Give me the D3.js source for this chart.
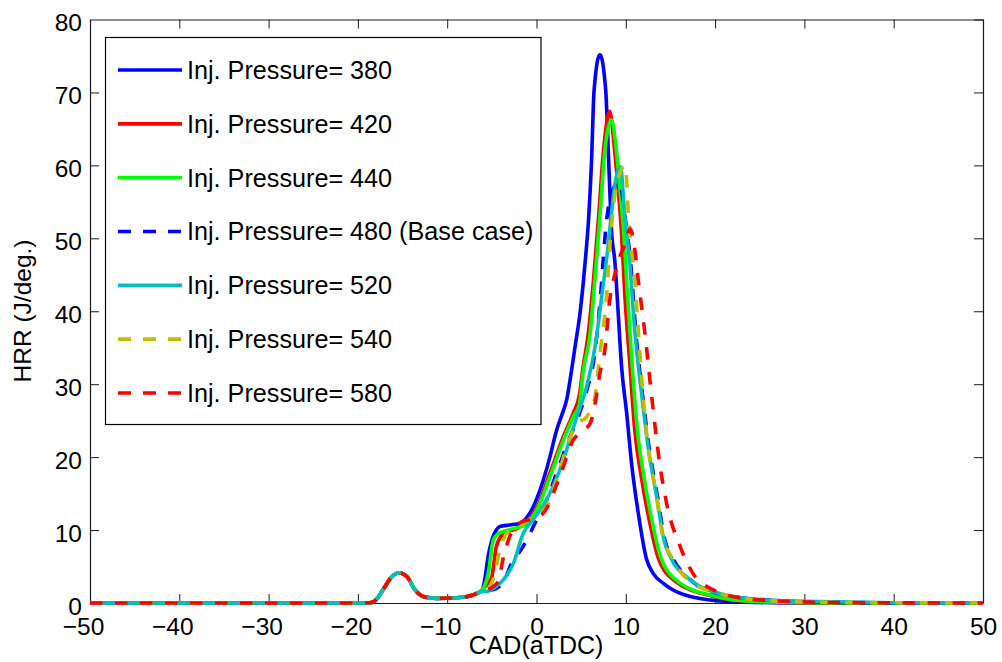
<!DOCTYPE html>
<html><head><meta charset="utf-8">
<script src="https://cdn.jsdelivr.net/npm/d3@7"></script>
<style>
body{margin:0;background:#fff}
text{font-family:Arial,"Liberation Sans",Helvetica,sans-serif;fill:#000}
</style>
</head><body>
<svg id="chart" width="1002" height="662"></svg>
<script>
// ---- data (CAD in deg aTDC, HRR in J/deg) ----
const xTicks = [-50,-40,-30,-20,-10,0,10,20,30,40,50];
const yTicks = [0,10,20,30,40,50,60,70,80];
const seriesNames = ["Inj. Pressure= 380","Inj. Pressure= 420","Inj. Pressure= 440","Inj. Pressure= 480 (Base case)","Inj. Pressure= 520","Inj. Pressure= 540","Inj. Pressure= 580"];

// shared pilot-injection part (identical for all cases)
const pilotPart = [[-50,0],[-40,0],[-30,0],[-20,0],[-18.7,0.03],[-18.0,0.4],[-17.2,1.8],[-16.2,3.6],[-15.4,4.15],[-14.5,3.6],[-13.6,1.8],[-12.7,0.9],[-11.2,0.64],[-8.9,0.73],[-7.1,1.1],[-6.3,1.55]];

const p380 = [[-6.0,2.0],[-5.8,3.2],[-5.4,6.5],[-5.0,8.6],[-4.5,10.0],[-4.1,10.5],[-3.0,10.7],[-1.9,10.9],[-0.75,12.3],[0.4,15.5],[1.5,20.0],[2.25,23.7],[2.9,26.0],[3.4,28.0],[3.75,30.5],[4.3,35.0],[4.9,40.0],[5.4,46.1],[5.85,53],[6.15,60.2],[6.45,70.3],[7.1,75.2],[7.75,70.3],[8.1,60],[8.4,51.1],[8.8,46.5],[9.15,39.7],[9.5,32.8],[10.1,26.0],[10.65,19.1],[11.4,12.3],[12.3,6.1],[13.1,4.0],[14.2,2.7],[17.2,0.9],[21.7,0.2],[28,0.02],[35,0],[50,0]];
const p420 = [[-6.0,1.9],[-5.5,2.6],[-5.0,3.6],[-4.5,7.7],[-3.7,9.5],[-2.2,10.2],[-1.2,11.0],[0,13.0],[1.5,17.8],[3.0,22.8],[4.1,26.0],[4.8,28.5],[5.15,31.8],[5.8,37.0],[6.35,43.8],[6.95,52.9],[7.5,62],[8.2,67.4],[8.75,62],[9.2,56],[9.5,51.1],[9.9,42],[10.45,32.8],[11.0,23.7],[11.8,16.8],[12.7,10.9],[13.6,6.3],[15.5,3.0],[19.8,0.9],[24.3,0.2],[32,0.02],[50,0]];
const p440 = [[-6.0,1.9],[-5.4,4.1],[-4.85,8.6],[-4.3,9.5],[-3.7,9.8],[-2.6,10.2],[-1.3,10.7],[0,12.7],[1.5,17.3],[3.0,22.3],[4.1,25.5],[4.8,27.2],[5.2,31.5],[6.0,36.9],[6.5,43.8],[7.1,52.9],[7.65,62],[8.4,66.2],[8.95,62],[9.4,56],[9.75,51],[10.2,42],[10.7,32.8],[11.3,23.7],[12.1,16.8],[13.0,10.9],[13.9,6.3],[16.0,2.8],[20.1,0.9],[24.6,0.2],[33,0.02],[50,0]];
const p480 = [[-6.0,1.7],[-5.0,1.8],[-4.5,2.0],[-3.7,2.9],[-2.6,5.9],[-2.2,6.5],[-1.1,8.6],[0,11.4],[1.1,14.0],[2.25,17.8],[3.5,22.0],[4.6,25.3],[5.6,29.0],[6.5,34.0],[7.1,41.1],[7.85,52.5],[8.5,56.5],[9.3,57.8],[9.9,53],[10.55,46.5],[11.1,37.4],[11.9,28.3],[12.6,21.4],[13.55,14.6],[14.4,8.5],[15.1,6.5],[17.4,3.0],[20.7,1.2],[26,0.4],[32,0.12],[40,0.02],[50,0]];
const p520 = [[-6.0,1.6],[-5.6,1.6],[-4.5,2.3],[-3.7,3.2],[-2.6,5.4],[-1.5,9.5],[-0.4,11.4],[1.1,14.1],[2.6,18.2],[3.7,22.3],[4.5,25.5],[5.6,29.6],[6.6,35.5],[7.3,42],[8.0,48.8],[8.45,54],[8.85,58],[9.4,59.8],[9.9,52.9],[10.45,46.5],[11.0,37.4],[11.8,28.3],[12.5,21.4],[13.45,14.6],[14.3,8.5],[15.0,6.3],[17.2,3.2],[20.5,1.3],[25.8,0.4],[31.7,0.2],[40,0.04],[50,0]];
const p540 = [[-6.0,1.7],[-5.5,1.9],[-4.65,4.1],[-4.1,7.3],[-3.0,10.0],[-1.7,10.7],[-0.5,11.8],[1.1,13.2],[2.25,16.8],[3.4,21.5],[4.5,24.5],[5.6,25.5],[6.55,28.3],[6.9,31.9],[7.2,35.1],[7.85,42],[8.2,48.8],[8.5,53],[9.0,57.5],[9.95,60],[10.3,53],[10.65,48.5],[11.0,44.5],[11.4,37.4],[11.95,28.3],[12.5,21.4],[13.45,14.6],[14.0,10],[15.3,5.9],[17.5,2.7],[20.5,1.3],[25,0.4],[32,0.1],[50,0]];
const p580 = [[-6.0,1.6],[-5.5,1.8],[-4.3,2.9],[-3.7,6.3],[-3.0,9.1],[-1.7,11.1],[-0.5,11.5],[0.75,12.3],[2.6,17.3],[4.1,22.3],[5.0,23.5],[6.0,24.6],[6.7,28.3],[7.1,31.5],[7.65,34.7],[8.2,41.5],[8.8,45.2],[9.5,48],[9.8,48.8],[10.5,51.3],[11.0,48.5],[11.4,44.2],[12.1,37.4],[12.9,28.3],[13.8,19.1],[14.6,13.5],[16.1,7.7],[17.5,4.1],[19.8,1.8],[23.5,0.6],[28.7,0.2],[35,0.05],[50,0]];

const seriesPoints = [p380,p420,p440,p480,p520,p540,p580];
const seriesColors = ["#0000ff","#ff0000","#00ff00","#0000ff","#00bfbf","#bfbf00","#ff0000"];
const seriesDashed = [false,false,false,true,false,true,true];

// ---- layout ----
const svg = d3.select("#chart");
const L = 90, R = 983, T = 19.5, B = 603;
const x = d3.scaleLinear().domain([-50,50]).range([L,R]);
const y = d3.scaleLinear().domain([0,80]).range([B,T]);
const FS = 24.5;

// axes (MATLAB-style box with inward ticks)
const gx = svg.append("g").attr("transform",`translate(0,${B})`)
  .call(d3.axisBottom(x).tickValues(xTicks).tickSizeInner(-9).tickSizeOuter(0).tickPadding(15));
const gx2 = svg.append("g").attr("transform",`translate(0,${T})`)
  .call(d3.axisTop(x).tickValues(xTicks).tickSizeInner(-9).tickSizeOuter(0).tickFormat(""));
const gy = svg.append("g").attr("transform",`translate(${L},0)`)
  .call(d3.axisLeft(y).tickValues(yTicks).tickSizeInner(-9).tickSizeOuter(0).tickPadding(8));
const gy2 = svg.append("g").attr("transform",`translate(${R},0)`)
  .call(d3.axisRight(y).tickValues(yTicks).tickSizeInner(-9).tickSizeOuter(0).tickFormat(""));
[gx,gx2,gy,gy2].forEach(g=>{
  g.selectAll("path.domain").attr("stroke","#1a1a1a").attr("stroke-width",1.2);
  g.selectAll(".tick line").attr("stroke","#1a1a1a").attr("stroke-width",1);
  g.selectAll("text").attr("font-size",FS).attr("fill","#000").style("font-family","Arial,'Liberation Sans',sans-serif");
});
gx.selectAll(".tick").filter(d=>d===-50||d===50).select("line").remove();
gy.selectAll(".tick").filter(d=>d===0||d===80).select("line").remove();
gy.selectAll("text").attr("dy","0.46em");
// MATLAB centres the digits; the minus sign hangs to the left
gx.selectAll(".tick text").attr("dx",d=>d<0?-7:0);

// axis titles
svg.append("text").attr("x",536).attr("y",654).attr("text-anchor","middle").attr("font-size",25).text("CAD(aTDC)");
svg.append("text").attr("transform","translate(31,311) rotate(-90)").attr("text-anchor","middle").attr("font-size",FS).text("HRR (J/deg.)");

// curves
const line = d3.line().x(d=>x(d[0])).y(d=>y(d[1])).curve(d3.curveMonotoneX);
seriesPoints.forEach((pts,i)=>{
  svg.append("path").datum(pilotPart.concat(pts))
    .attr("d",line).attr("fill","none")
    .attr("stroke",seriesColors[i]).attr("stroke-width",3.6)
    .attr("stroke-linejoin","round")
    .attr("stroke-dasharray",seriesDashed[i]?"12.5,12.5":null);
});

// legend
const lg = svg.append("g");
lg.append("rect").attr("x",105.5).attr("y",37.5).attr("width",435.5).attr("height",387)
  .attr("fill","#fff").attr("stroke","#000").attr("stroke-width",1.2);
const rowY = d3.scaleLinear().domain([0,6]).range([70,393]);
seriesNames.forEach((name,i)=>{
  const yy = rowY(i);
  lg.append("line").attr("x1",118).attr("x2",182).attr("y1",yy).attr("y2",yy)
    .attr("stroke",seriesColors[i]).attr("stroke-width",3.6)
    .attr("stroke-dasharray",seriesDashed[i]?"13,12":null);
  lg.append("text").attr("x",187).attr("y",yy+8.9).attr("font-size",25.2).text(name);
});
</script>
</body></html>
